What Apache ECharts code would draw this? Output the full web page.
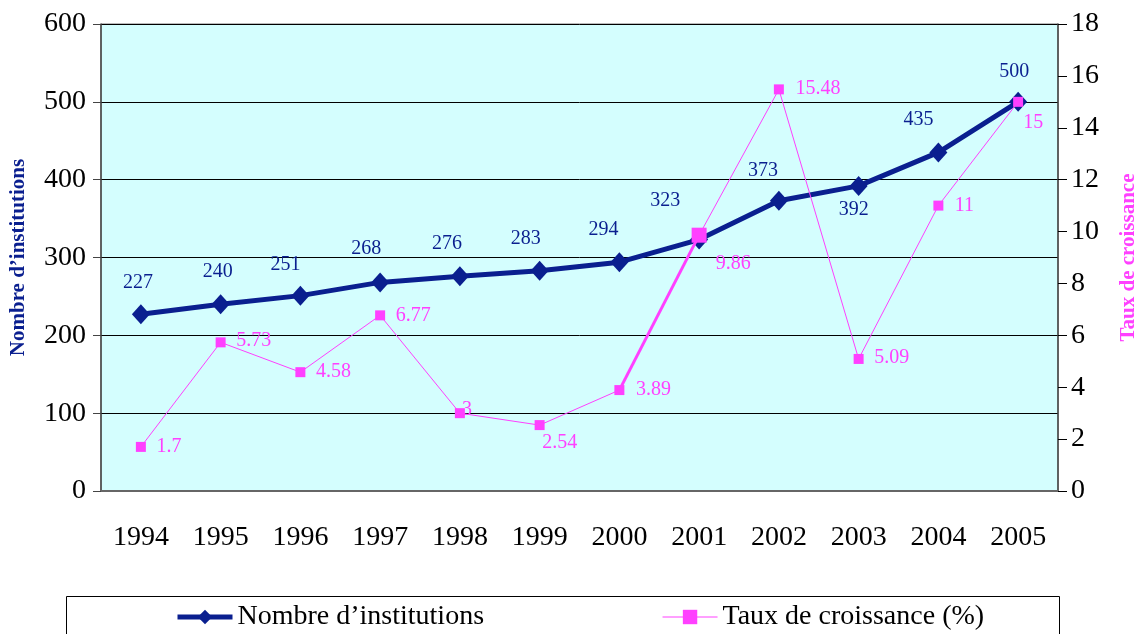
<!DOCTYPE html>
<html>
<head>
<meta charset="utf-8">
<script src="https://cdn.jsdelivr.net/npm/echarts@6/dist/echarts.min.js"></script>
<style>
  html, body { margin: 0; padding: 0; background: #fff; }
  #chart { width: 1140px; height: 634px; }
</style>
</head>
<body>
<div id="chart"></div>
<script>
var annees = ['1994', '1995', '1996', '1997', '1998', '1999', '2000', '2001', '2002', '2003', '2004', '2005']
var institutions = [227, 240, 251, 268, 276, 283, 294, 323, 373, 392, 435, 500]
var croissance = [1.7, 5.73, 4.58, 6.77, 3, 2.54, 3.89, 9.86, 15.48, 5.09, 11, 15]

// label offsets (px) relative to each marker
var offBleu = [[-3, -32], [-3, -32], [-15, -31], [-14, -34], [-13, -32], [-14, -32], [-16, -32], [-34, -39], [-16, -30], [-5, 24], [-20, -33], [-4, -30]]
var offRose = [[28, 0], [33, -2], [33, 0], [33, 0], [7, -3], [20, 18], [34, 0], [34, 29], [39, -1], [33, -1], [26, 0], [15, 21]]

var bleu = '#0a1f8f'
var rose = '#ff40ff'
var serif = '"Liberation Serif", "DejaVu Serif", serif'

var myChart = echarts.init(document.getElementById('chart'))

var dataBleu = institutions.map(function (v, i) {
  return { value: v, label: { offset: offBleu[i] } }
})
var dataRose = croissance.map(function (v, i) {
  return { value: v, label: { offset: offRose[i] }, symbolSize: i === 7 ? 15 : 10 }
})
// segment 2000-2001 drawn thicker in the original
var segmentEpais = croissance.map(function (v, i) {
  return i === 6 || i === 7 ? v : null
})

var option = {
  animation: false,
  grid: {
    left: 101, right: 82, top: 24, bottom: 143,
    outerBoundsMode: 'none', containLabel: false,
    show: true, backgroundColor: '#d4fefe', borderColor: '#777', borderWidth: 1
  },
  legend: {
    left: 175, top: 603, padding: 0,
    itemGap: 178, itemWidth: 55, itemHeight: 18,
    textStyle: { fontFamily: serif, fontSize: 28, color: '#000' },
    data: [
      { name: 'Nombre d\u2019institutions', lineStyle: { width: 5 } },
      { name: 'Taux de croissance (%)', lineStyle: { width: 1 } }
    ]
  },
  graphic: [{
    type: 'rect', left: 64, top: 594,
    shape: { width: 993, height: 60 },
    style: { fill: 'none', stroke: '#000', lineWidth: 1 }
  }],
  xAxis: {
    type: 'category',
    data: annees,
    boundaryGap: true,
    axisLine: { lineStyle: { color: '#666', width: 2 } },
    axisTick: { alignWithLabel: false, length: 9, lineStyle: { color: '#000' } },
    axisLabel: { margin: 33, fontFamily: serif, fontSize: 28, color: '#000' }
  },
  yAxis: [{
    type: 'value', min: 0, max: 600, interval: 100,
    name: 'Nombre d\u2019institutions', nameLocation: 'middle', nameGap: 72,
    nameTextStyle: { fontFamily: serif, fontSize: 21, fontWeight: 'bold', color: bleu },
    axisLine: { show: true, lineStyle: { color: '#444', width: 1.5 } },
    axisTick: { show: true, length: 8, lineStyle: { color: '#444' } },
    axisLabel: { margin: 15, fontFamily: serif, fontSize: 28, color: '#000' },
    splitLine: { lineStyle: { color: '#000', width: 1 } }
  }, {
    type: 'value', min: 0, max: 18, interval: 2,
    name: 'Taux de croissance', nameLocation: 'middle', nameGap: 60,
    nameRotate: 90,
    nameTextStyle: { fontFamily: serif, fontSize: 21, fontWeight: 'bold', color: rose },
    axisLine: { show: true, lineStyle: { color: '#444', width: 1.5 } },
    axisTick: { show: true, length: 9, lineStyle: { color: '#000' } },
    axisLabel: { margin: 13, fontFamily: serif, fontSize: 28, color: '#000' },
    splitLine: { show: false }
  }],
  series: [{
    name: 'Nombre d\u2019institutions',
    type: 'line',
    yAxisIndex: 0,
    data: dataBleu,
    symbol: 'diamond',
    symbolSize: [18, 20],
    itemStyle: { color: bleu },
    lineStyle: { color: bleu, width: 5 },
    label: {
      show: true, position: 'inside',
      fontFamily: serif, fontSize: 20, color: bleu
    },
    z: 3
  }, {
    name: 'Taux de croissance (%)',
    type: 'line',
    yAxisIndex: 1,
    data: dataRose,
    symbol: 'rect',
    itemStyle: { color: rose },
    lineStyle: { color: rose, width: 1 },
    label: {
      show: true, position: 'inside',
      fontFamily: serif, fontSize: 20, color: rose
    },
    z: 4
  }, {
    name: 'segment',
    type: 'line',
    yAxisIndex: 1,
    data: segmentEpais,
    symbol: 'none',
    lineStyle: { color: rose, width: 3 },
    z: 4,
    silent: true
  }]
}
myChart.setOption(option)
</script>
</body>
</html>
